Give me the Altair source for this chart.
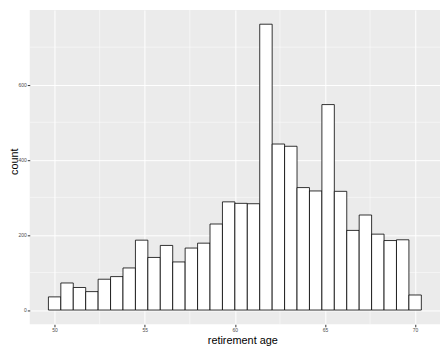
import altair as alt
import pandas as pd

# histogram counts (30 bins, ages 50..70)
counts = [35, 72, 60, 49, 82, 89, 112, 186, 140, 172, 128, 165, 178, 229, 288,
          284, 283, 761, 442, 436, 326, 317, 547, 316, 212, 253, 202, 185, 187, 40]
age_min, age_max = 50, 70
x_ticks = [50, 55, 60, 65, 70]
x_minor = [52.5, 57.5, 62.5, 67.5]
y_ticks = [0, 200, 400, 600]
y_minor = [100, 300, 500, 700]

n = len(counts)
bw = (age_max - age_min) / (n - 1)
df = pd.DataFrame({
    "start": [age_min - bw / 2 + i * bw for i in range(n)],
    "end": [age_min + bw / 2 + i * bw for i in range(n)],
    "count": counts,
})

xdom = [48.62, 71.38]
ydom = [-38, 799]
xs = alt.Scale(domain=xdom, nice=False, zero=False)
ys = alt.Scale(domain=ydom, nice=False, zero=False)

font = "Liberation Sans"

bars = alt.Chart(df).mark_rect(fill="white", stroke="black", strokeWidth=0.8).encode(
    x=alt.X("start:Q", scale=xs, axis=alt.Axis(
        values=x_ticks, title="retirement age", labelFontSize=5, labelColor="#4D4D4D",
        tickColor="#333333", tickSize=2.5, labelPadding=1, domain=False,
        gridColor="white", gridWidth=1, titleFontSize=11, titleFontWeight="normal",
        titleColor="black", titlePadding=2, titleX=215, titleFont=font, labelFont=font)),
    x2="end:Q",
    y=alt.Y("count:Q", scale=ys, axis=alt.Axis(
        values=y_ticks, title="count", labelFontSize=5, labelColor="#4D4D4D",
        tickColor="#333333", tickSize=2.5, labelPadding=1, domain=False,
        gridColor="white", gridWidth=1, titleFontSize=11, titleFontWeight="normal",
        titleColor="black", titleX=-10, titleY=153, titleBaseline="bottom",
        titleFont=font, labelFont=font)),
    y2=alt.datum(0),
)

vminor = alt.Chart(pd.DataFrame({"v": x_minor})).mark_rule(
    color="white", strokeWidth=0.5).encode(x=alt.X("v:Q", scale=xs))
hminor = alt.Chart(pd.DataFrame({"v": y_minor})).mark_rule(
    color="white", strokeWidth=0.5).encode(y=alt.Y("v:Q", scale=ys))

chart = alt.layer(vminor, hminor, bars).properties(
    width=415, height=318,
    autosize=alt.AutoSizeParams(type="none"),
    padding={"left": 22, "top": 0, "right": 0, "bottom": 20},
    background="white",
).configure_view(fill="#EBEBEB", stroke=None)

chart.save("out.html", embed_options={"renderer": "svg", "actions": False})
